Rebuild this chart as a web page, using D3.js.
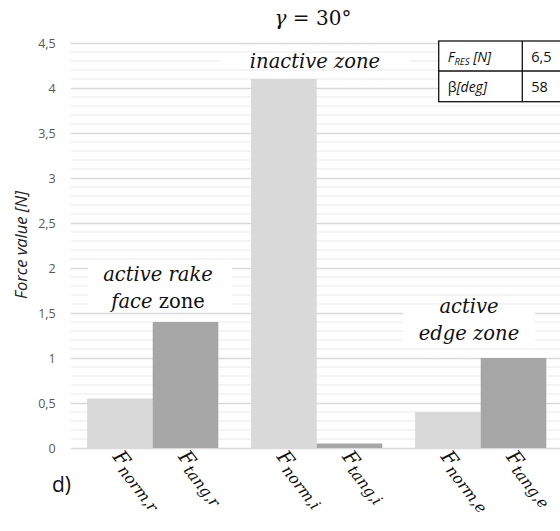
<!DOCTYPE html>
<html>
<head>
<meta charset="utf-8">
<script src="https://cdn.jsdelivr.net/npm/d3@7"></script>
<style>
  html, body { margin: 0; padding: 0; background: #fff; overflow: hidden; }
  svg { display: block; }
</style>
</head>
<body>
<svg id="chart" width="560" height="531"></svg>
<script>
// Force components per zone: normal (light) and tangential (dark)
const zones = ["r", "i", "e"];
const seriesKeys = ["norm", "tang"];
const normValues = [0.55, 4.1, 0.4];
const tangValues = [1.4, 0.05, 1.0];
const yTicks = [0, 0.5, 1, 1.5, 2, 2.5, 3, 3.5, 4, 4.5];
const tableRows = [["F", "RES", " [N]", "6,5"], ["β", "", "[deg]", "58"]];

const svg = d3.select("#chart");
const W = 560, H = 531;
const plot = { left: 70.7, right: 562.7, top: 43, bottom: 448 };

const y = d3.scaleLinear().domain([0, 4.5]).range([plot.bottom, plot.top]);
const x0 = d3.scaleBand().domain(zones).range([plot.left, plot.right])
  .paddingInner(0.2).paddingOuter(0.1);
const x1 = d3.scaleBand().domain(seriesKeys).range([0, x0.bandwidth()]);
const colors = { norm: "#d9d9d9", tang: "#a6a6a6" };

// Minor gridlines every 0.1
const minor = d3.range(0, 45).map(i => i / 10).filter(v => Math.round(v * 10) % 5 !== 0);
svg.append("g").selectAll("line").data(minor).join("line")
  .attr("x1", plot.left).attr("x2", W)
  .attr("y1", d => y(d)).attr("y2", d => y(d))
  .attr("stroke", "#f1f1f1").attr("stroke-width", 1.3);

// Major gridlines + axis
const yAxis = d3.axisLeft(y).tickValues(yTicks).tickSize(-(W - plot.left))
  .tickFormat(d => String(d).replace(".", ","));
const ga = svg.append("g").attr("transform", `translate(${plot.left},0)`).call(yAxis);
ga.select(".domain").remove();
ga.selectAll(".tick line").attr("stroke", "#d9d9d9").attr("stroke-width", 1.5);
ga.selectAll(".tick text").attr("x", -15).attr("fill", "#595959")
  .style("font-family", "'Open Sans', 'Liberation Sans', sans-serif").style("font-size", "12.5px");

// Bars
const data = zones.map((z, i) => ({ zone: z, values: [
  { key: "norm", zone: z, v: normValues[i] },
  { key: "tang", zone: z, v: tangValues[i] }] }));

const groups = svg.append("g").selectAll("g").data(data).join("g")
  .attr("transform", d => `translate(${x0(d.zone)},0)`);
groups.selectAll("rect").data(d => d.values).join("rect")
  .attr("x", d => x1(d.key)).attr("width", x1.bandwidth())
  .attr("y", d => y(d.v)).attr("height", d => y(0) - y(d.v))
  .attr("fill", d => colors[d.key]);

// Annotations with white backing
const mathFont = "'DejaVu Serif', 'Liberation Serif', serif";
function backing(x, yy, w, h) {
  svg.append("rect").attr("x", x).attr("y", yy).attr("width", w).attr("height", h).attr("fill", "#fff");
}
backing(220, 56, 190, 9);
backing(88, 263, 144, 45);
backing(403, 306, 132, 38);

function note(lines, cx) {
  lines.forEach(l => {
    const t = svg.append("text").attr("x", cx).attr("y", l.y).attr("text-anchor", "middle")
      .style("font-family", mathFont).style("font-size", "19.5px").attr("fill", "#111");
    l.parts.forEach(p => t.append("tspan").text(p[0]).style("font-style", p[1] ? "italic" : "normal"));
  });
}
note([{ y: 68, parts: [["inactive zone", true]] }], 315);
note([{ y: 281, parts: [["active rake", true]] }, { y: 308, parts: [["face ", true], ["zone", false]] }], 158);
note([{ y: 313, parts: [["active", true]] }, { y: 340, parts: [["edge zone", true]] }], 469);

// Title
const title = svg.append("text").attr("x", 313).attr("y", 25).attr("text-anchor", "middle")
  .style("font-family", mathFont).style("font-size", "20px").attr("fill", "#111");
title.append("tspan").text("γ").style("font-style", "italic");
title.append("tspan").text(" = 30°");

// Y axis title
svg.append("text").attr("transform", "translate(27,245) rotate(-90)").attr("text-anchor", "middle")
  .style("font-family", "'Open Sans', 'Liberation Sans', sans-serif").style("font-size", "16.5px")
  .style("font-style", "italic").attr("fill", "#222").text("Force value [N]");

// Category labels under each bar
const subs = { r: "r", i: "i", e: "e" };
data.forEach(g => g.values.forEach(d => {
  const cx = x0(d.zone) + x1(d.key) + x1.bandwidth() / 2 - 8;
  const t = svg.append("text").attr("transform", `translate(${cx},457) rotate(52)`)
    .style("font-family", mathFont).style("font-style", "italic").attr("fill", "#111");
  t.append("tspan").text("F").style("font-size", "20px");
  t.append("tspan").text(`${d.key},${subs[d.zone]}`).style("font-size", "15.5px").attr("dy", 4);
}));

// d) marker
svg.append("text").attr("x", 52).attr("y", 492)
  .style("font-family", "'Open Sans', 'Liberation Sans', sans-serif").style("font-size", "21px")
  .attr("fill", "#111").text("d)");

// Result table
const tb = svg.append("g");
const tx = 438.7, colX = 522.3, rowY = [41, 71, 101.7];
tb.append("rect").attr("x", tx).attr("y", rowY[0]).attr("width", 200).attr("height", rowY[2] - rowY[0])
  .attr("fill", "#fff").attr("stroke", "#111").attr("stroke-width", 1.3);
tb.append("line").attr("x1", tx).attr("x2", 640).attr("y1", rowY[1]).attr("y2", rowY[1]).attr("stroke", "#111").attr("stroke-width", 1.3);
tb.append("line").attr("x1", colX).attr("x2", colX).attr("y1", rowY[0]).attr("y2", rowY[2]).attr("stroke", "#111").attr("stroke-width", 1.3);
const sans = "'Open Sans', 'Liberation Sans', sans-serif";
tableRows.forEach((r, i) => {
  const base = rowY[i] + 20.5;
  const t = tb.append("text").attr("x", tx + 9).attr("y", base)
    .style("font-family", sans).style("font-size", "14px").attr("fill", "#111");
  t.append("tspan").text(r[0]).style("font-style", i === 0 ? "italic" : "normal");
  if (r[1]) t.append("tspan").text(r[1]).style("font-size", "9.5px").style("font-style", "italic").attr("dy", 3);
  t.append("tspan").text(r[2]).style("font-style", "italic").attr("dy", r[1] ? -3 : 0);
  tb.append("text").attr("x", colX + 9).attr("y", base)
    .style("font-family", sans).style("font-size", "14.5px").attr("fill", "#111").text(r[3]);
});
</script>
</body>
</html>
